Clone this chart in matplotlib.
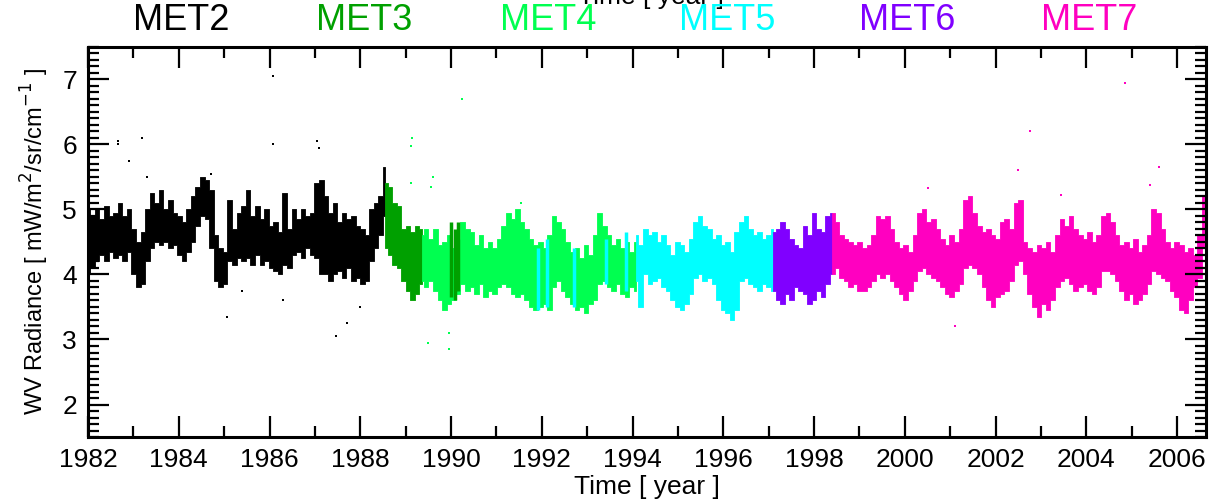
import numpy as np
import matplotlib.pyplot as plt
from matplotlib.ticker import MultipleLocator

plt.rcParams['font.family'] = ['Liberation Sans', 'DejaVu Sans']

# satellite names, colours and time span (year) of each record
sats = ['MET2', 'MET3', 'MET4', 'MET5', 'MET6', 'MET7']
sat_colors = ['#000000', '#00a000', '#00ff50', '#00ffff', '#8000ff', '#ff00c0']
sat_span = [(1982.0, 1988.55), (1988.55, 1989.35), (1989.35, 1994.08),
            (1994.08, 1997.1), (1997.1, 1998.4), (1998.4, 2006.6)]

# upper / lower edge of the radiance band
met2_hi = [5.0, 4.9, 5.0, 4.85, 5.05, 4.9, 4.95, 5.1, 4.9, 5.0,
           4.7, 4.5, 4.65, 5.0, 5.25, 5.1, 5.3, 5.0, 5.15, 4.95,
           4.9, 4.8, 5.0, 5.2, 5.35, 5.5, 5.45, 5.3, 4.6, 4.4,
           4.35, 5.15, 4.7, 4.95, 5.05, 5.3, 4.9, 5.05, 4.85, 5.0,
           4.75, 4.8, 4.65, 5.25, 4.7, 5.0, 4.85, 5.0, 4.9, 4.95,
           5.4, 5.45, 5.2, 4.95, 5.1, 4.8, 4.95, 4.85, 4.9, 4.75,
           4.7, 4.6, 5.0, 5.1, 5.2, 5.65]
met2_lo = [4.0, 4.1, 4.2, 4.3, 4.2, 4.35, 4.25, 4.3, 4.2, 4.35,
           4.0, 3.8, 3.85, 4.2, 4.4, 4.5, 4.45, 4.5, 4.4, 4.45,
           4.3, 4.2, 4.35, 4.5, 4.75, 4.9, 4.85, 4.4, 3.9, 3.8,
           3.85, 4.2, 4.15, 4.25, 4.2, 4.25, 4.15, 4.3, 4.15, 4.2,
           4.1, 4.05, 4.0, 4.15, 4.1, 4.3, 4.35, 4.25, 4.4, 4.3,
           4.25, 4.0, 4.0, 3.9, 4.0, 4.05, 3.95, 4.1, 3.9, 3.95,
           3.85, 3.9, 4.2, 4.4, 4.6, 4.9]

met3_hi = [5.4, 5.35, 5.1, 5.05, 4.7, 4.75, 4.65, 4.75, 4.7]
met3_lo = [4.4, 4.3, 4.15, 4.1, 3.9, 3.75, 3.6, 3.7, 3.85]

met4_hi = [4.6, 4.7, 4.55, 4.7, 4.45, 4.5, 4.6, 4.4, 4.55, 4.8,
           4.7, 4.65, 4.45, 4.6, 4.4, 4.5, 4.4, 4.55, 4.75, 4.95,
           4.85, 5.0, 4.8, 4.7, 4.55, 4.45, 4.5, 4.4, 4.6, 4.9,
           4.8, 4.7, 4.5, 4.35, 4.4, 4.25, 4.45, 4.3, 4.6, 4.95,
           4.75, 4.6, 4.45, 4.55, 4.4, 4.5, 4.35, 4.5]
met4_lo = [3.9, 3.8, 3.9, 3.75, 3.6, 3.45, 3.55, 3.6, 3.7, 3.85,
           3.75, 3.8, 3.7, 3.85, 3.65, 3.75, 3.7, 3.8, 3.85, 3.8,
           3.7, 3.65, 3.7, 3.6, 3.5, 3.45, 3.5, 3.55, 3.45, 3.8,
           3.9, 3.75, 3.65, 3.55, 3.45, 3.5, 3.4, 3.55, 3.6, 3.85,
           3.9, 3.8, 3.75, 3.85, 3.7, 3.65, 3.8, 3.75]

met5_hi = [4.6, 4.45, 4.7, 4.6, 4.65, 4.5, 4.6, 4.45, 4.3, 4.5,
           4.45, 4.35, 4.55, 4.8, 4.9, 4.75, 4.7, 4.55, 4.6, 4.45,
           4.5, 4.35, 4.65, 4.8, 4.9, 4.7, 4.6, 4.65, 4.55, 4.6, 4.7]
met5_lo = [3.9, 3.5, 4.0, 3.85, 3.9, 3.95, 3.8, 3.75, 3.6, 3.5,
           3.45, 3.55, 3.7, 3.95, 4.0, 3.9, 3.95, 3.85, 3.6, 3.45,
           3.4, 3.3, 3.45, 3.9, 3.95, 3.85, 3.8, 3.75, 3.85, 3.8, 3.75]

met6_hi = [4.65, 4.7, 4.8, 4.7, 4.55, 4.45, 4.4, 4.75, 4.6, 4.95,
           4.7, 4.65, 4.9, 4.95]
met6_lo = [3.75, 3.6, 3.55, 3.7, 3.6, 3.8, 3.75, 3.7, 3.55, 3.6,
           3.75, 3.65, 3.85, 4.0]

met7_hi = [4.95, 4.8, 4.6, 4.55, 4.5, 4.45, 4.5, 4.4, 4.45, 4.6,
           4.9, 4.85, 4.9, 4.7, 4.5, 4.4, 4.45, 4.35, 4.6, 4.95,
           5.0, 4.8, 4.85, 4.7, 4.55, 4.45, 4.6, 4.5, 4.7, 5.15,
           5.2, 4.95, 4.75, 4.65, 4.7, 4.6, 4.55, 4.8, 4.85, 4.7,
           5.1, 5.15, 4.5, 4.4, 4.35, 4.45, 4.4, 4.5, 4.35, 4.6,
           4.85, 4.75, 4.9, 4.7, 4.6, 4.55, 4.65, 4.5, 4.6, 4.9,
           4.95, 4.8, 4.6, 4.45, 4.5, 4.4, 4.55, 4.35, 4.45, 4.6,
           5.0, 4.95, 4.7, 4.5, 4.4, 4.5, 4.45, 4.35, 4.4, 4.3,
           4.6, 5.2]
met7_lo = [4.0, 4.1, 3.95, 3.9, 3.8, 3.85, 3.75, 3.75, 3.8, 3.9,
           4.0, 3.95, 4.0, 3.9, 3.8, 3.7, 3.6, 3.75, 3.9, 4.05,
           4.1, 4.0, 3.95, 3.9, 3.8, 3.7, 3.65, 3.75, 3.85, 4.1,
           4.15, 4.1, 4.0, 3.8, 3.6, 3.5, 3.65, 3.7, 3.75, 3.9,
           4.15, 4.2, 4.0, 3.7, 3.5, 3.35, 3.55, 3.45, 3.6, 3.8,
           3.9, 3.95, 3.85, 3.75, 3.8, 3.85, 3.75, 3.7, 3.8, 4.05,
           4.05, 4.0, 3.9, 3.75, 3.6, 3.7, 3.55, 3.6, 3.7, 3.85,
           4.05, 4.0, 3.95, 3.9, 3.75, 3.65, 3.45, 3.4, 3.6, 3.8,
           3.95, 4.4]

band_hi = [met2_hi, met3_hi, met4_hi, met5_hi, met6_hi, met7_hi]
band_lo = [met2_lo, met3_lo, met4_lo, met5_lo, met6_lo, met7_lo]

# short MET3 / MET5 bursts inside the MET4 period (time, low, high)
extra_sat = [1, 1, 1, 3, 3, 3, 3, 3]
extra_t = [1990.0, 1990.08, 1990.16, 1991.92, 1992.12, 1992.7, 1993.42, 1993.85]
extra_lo = [3.65, 3.6, 3.75, 3.45, 3.5, 3.5, 3.85, 3.75]
extra_hi = [4.8, 4.7, 4.8, 4.4, 4.55, 4.4, 4.55, 4.65]

# isolated outlying points
out_sat = [0, 0, 0, 0, 0, 0, 0, 0, 0, 0, 0, 0, 0, 0, 0, 0,
           2, 2, 2, 2, 2, 2, 2, 2, 2, 2,
           5, 5, 5, 5, 5, 5, 5, 5]
out_t = [1982.65, 1982.65, 1983.2, 1982.9, 1983.3, 1984.7, 1985.07, 1985.4,
         1986.08, 1986.08, 1986.3, 1987.05, 1987.1, 1987.47, 1987.7, 1988.0,
         1989.15, 1989.12, 1989.12, 1989.6, 1989.55, 1989.95, 1989.95, 1989.5,
         1990.25, 1991.55,
         2000.5, 2001.1, 2002.5, 2002.75, 2003.45, 2004.85, 2005.4, 2005.6]
out_v = [6.05, 6.0, 6.1, 5.75, 5.5, 5.55, 3.35, 3.75,
         7.05, 6.0, 3.6, 6.05, 5.95, 3.05, 3.25, 3.5,
         6.1, 5.98, 5.4, 5.5, 5.35, 2.85, 3.1, 2.95,
         6.7, 5.1,
         5.33, 3.2, 5.6, 6.2, 5.22, 6.95, 5.37, 5.65]

fig = plt.figure(figsize=(12.26, 5.03), dpi=100)
ax = fig.add_axes([0.0718, 0.1312, 0.912, 0.7754])

for i in range(len(sats)):
    t = np.linspace(sat_span[i][0], sat_span[i][1], len(band_hi[i]))
    ax.fill_between(t, band_lo[i], band_hi[i], color=sat_colors[i], lw=0.6,
                    step='mid')

for s, t, lo, hi in zip(extra_sat, extra_t, extra_lo, extra_hi):
    ax.vlines(t, lo, hi, color=sat_colors[s], lw=2.5)

for s, t, v in zip(out_sat, out_t, out_v):
    ax.plot(t, v, 's', ms=1.6, color=sat_colors[s], mew=0)

ax.set_xlim(1982, 2006.64)
ax.set_ylim(1.5, 7.5)
ax.xaxis.set_major_locator(MultipleLocator(2))
ax.xaxis.set_minor_locator(MultipleLocator(1))
ax.yaxis.set_major_locator(MultipleLocator(1))
ax.yaxis.set_minor_locator(MultipleLocator(0.1))
ax.tick_params(which='both', direction='in', top=True, right=True,
               labelsize=19, width=1.6, pad=8)
ax.tick_params(which='major', length=15)
ax.tick_params(which='minor', length=8)
ax.set_yticks([2, 3, 4, 5, 6, 7])
for sp in ax.spines.values():
    sp.set_linewidth(2.2)

ax.set_xlabel('Time [ year ]', fontsize=19, labelpad=2)
ax.set_ylabel(r'WV Radiance [ mW/m$^2$/sr/cm$^{-1}$ ]', fontsize=17, labelpad=8)

# clipped duplicate of the axis title at the very top
fig.text(651 / 1226, 1.006, 'Time [ year ]', fontsize=19, ha='center', va='center')

label_x = [181, 364, 548, 727, 907, 1089]
for name, c, x in zip(sats, sat_colors, label_x):
    fig.text(x / 1226, 1 - 21 / 503, name, color=c, fontsize=26,
             ha='center', va='center')

fig.savefig('out.png', dpi=100)
